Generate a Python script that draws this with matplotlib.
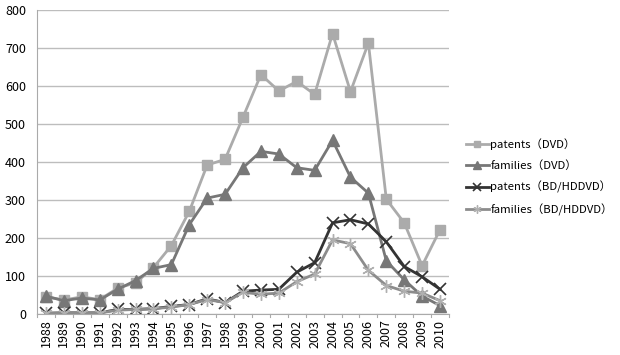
import matplotlib
matplotlib.use("Agg")
import matplotlib.pyplot as plt

plt.rcParams['font.family'] = ['Noto Sans CJK SC', 'DejaVu Sans']

years = [str(y) for y in range(1988, 2011)]

patents_dvd = [45, 37, 45, 38, 68, 82, 122, 180, 270, 392, 407, 518, 630, 587,
               612, 578, 738, 585, 713, 302, 240, 127, 222]
families_dvd = [47, 35, 42, 37, 65, 88, 120, 130, 235, 305, 315, 385, 428, 421,
                385, 378, 457, 360, 318, 140, 90, 47, 22]
patents_bd = [2, 3, 3, 3, 12, 12, 14, 20, 25, 40, 30, 60, 63, 65,
              110, 135, 240, 248, 237, 190, 125, 98, 65]
families_bd = [2, 3, 3, 3, 10, 12, 14, 18, 25, 38, 30, 57, 52, 55,
               85, 105, 195, 185, 115, 75, 60, 55, 35]

labels = ['patents（DVD）', 'families（DVD）',
          'patents（BD/HDDVD）', 'families（BD/HDDVD）']

fig = plt.figure(figsize=(6.2, 3.55), dpi=100)
ax = fig.add_axes([37 / 620, 1 - 314 / 355, (449 - 37) / 620, (314 - 10) / 355])

x = list(range(len(years)))
ax.plot(x, patents_dvd, color='#ababab', lw=2, marker='s', ms=7, label=labels[0])
ax.plot(x, families_dvd, color='#777777', lw=2, marker='^', ms=8, label=labels[1])
ax.plot(x, patents_bd, color='#333333', lw=2, marker='x', ms=8, mew=1.2, label=labels[2])
ax.plot(x, families_bd, color='#8c8c8c', lw=2, marker=(6, 2, 0), ms=9, mew=1.0,
        markeredgecolor='#b0b0b0', label=labels[3])

ax.set_xlim(-0.5, len(years) - 0.5)
ax.set_ylim(0, 800)
ax.set_yticks(range(0, 801, 100))
ax.set_xticks(x)
ax.set_xticklabels(years, rotation=90, fontsize=9)
ax.tick_params(axis='y', labelsize=9, length=0, pad=8)
ax.tick_params(axis='x', length=0, pad=4)
# ticks between categories
for b in [i - 0.5 for i in range(len(years) + 1)]:
    ax.plot([b, b], [0, -8], color='#aaaaaa', lw=0.8, clip_on=False)
ax.grid(axis='y', color='#bdbdbd', lw=1)
ax.set_axisbelow(True)
for s in ['top', 'right']:
    ax.spines[s].set_visible(False)
ax.spines['left'].set_color('#aaaaaa')
ax.spines['bottom'].set_color('#aaaaaa')

leg = fig.legend(loc='center left', bbox_to_anchor=(466 / 620, 1 - 177 / 355),
                 frameon=False, fontsize=8.2, handlelength=2.0, labelspacing=0.9,
                 handletextpad=0.15, markerscale=0.65, borderpad=0, borderaxespad=0)

fig.savefig('out.png', dpi=100)
